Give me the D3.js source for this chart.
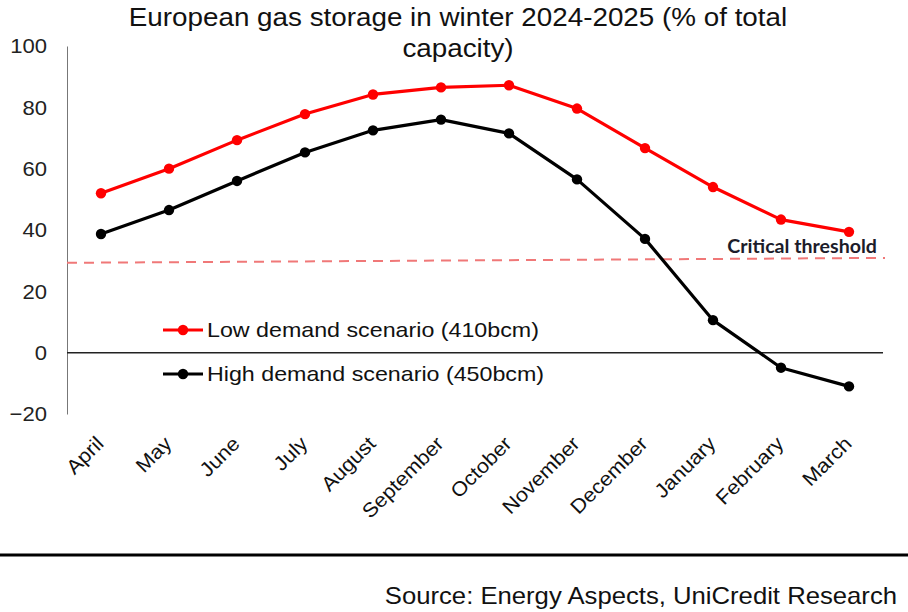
<!DOCTYPE html>
<html>
<head>
<meta charset="utf-8">
<script src="https://cdn.jsdelivr.net/npm/d3@7"></script>
<style>
  html, body { margin: 0; padding: 0; background: #fff; }
  svg { display: block; }
</style>
</head>
<body>
<svg id="chart" width="908" height="612"></svg>
<script>
// ---- Data ----
const months = ["April","May","June","July","August","September","October","November","December","January","February","March"];
const lowDemand  = [52, 60, 69.3, 77.8, 84.2, 86.5, 87.2, 79.6, 66.7, 54, 43.4, 39.4];
const highDemand = [38.7, 46.5, 56, 65.3, 72.5, 76, 71.5, 56.5, 37.1, 10.6, -4.9, -11];
const yTicks = [-20, 0, 20, 40, 60, 80, 100];
const thresholdEnds = [29.3, 30.9];
const seriesNames = ["Low demand scenario (410bcm)", "High demand scenario (450bcm)"];
const titleLines = ["European gas storage in winter 2024-2025 (% of total", "capacity)"];
const thresholdLabel = "Critical threshold";
const sourceText = "Source: Energy Aspects, UniCredit Research";

const svg = d3.select("#chart");
const FONT = "'Liberation Sans', Arial, sans-serif";

const plotLeft = 67, plotRight = 883;
const x = d3.scaleBand().domain(months).range([plotLeft, plotRight]);
const y = d3.scaleLinear().domain([-20, 100]).range([414, 46]);
const xc = m => x(m) + x.bandwidth() / 2;

// helper: text placed at (px,py) with horizontal stretch
function stretchedText(sel, px, py, sx, str) {
  return sel.append("text")
    .attr("transform", `translate(${px},${py}) scale(${sx},1)`)
    .attr("x", 0).attr("y", 0)
    .text(str);
}

// Title
titleLines.forEach((t, i) => {
  stretchedText(svg, 458, 26 + i * 31, 1.07, t)
    .attr("text-anchor", "middle")
    .attr("font-family", FONT).attr("font-size", 26).attr("fill", "#111");
});

// Y axis
const yAxis = d3.axisLeft(y).tickValues(yTicks).tickSize(0).tickPadding(0);
const gy = svg.append("g").attr("transform", `translate(${plotLeft},0)`).call(yAxis);
gy.select(".domain").attr("stroke", "#777").attr("stroke-width", 1);
gy.selectAll("text")
  .attr("x", 0)
  .attr("transform", "translate(-20,0) scale(1.05,1)")
  .attr("font-family", FONT).attr("font-size", 21).attr("fill", "#222");

// Zero line
svg.append("line")
  .attr("x1", plotLeft).attr("x2", plotRight)
  .attr("y1", y(0)).attr("y2", y(0))
  .attr("stroke", "#222").attr("stroke-width", 1.5);

// X axis labels
const xAxis = d3.axisBottom(x).tickSize(0);
const gx = svg.append("g").call(xAxis);
gx.select(".domain").remove();
gx.selectAll(".tick").attr("transform", d => `translate(${xc(d) - 1},440)`);
gx.selectAll("text")
  .attr("x", 0).attr("y", 0).attr("dy", "0.35em")
  .attr("text-anchor", "end")
  .attr("transform", "rotate(-45) scale(1.08,1)")
  .attr("font-family", FONT).attr("font-size", 20).attr("fill", "#111");

// Critical threshold
svg.append("line")
  .attr("x1", plotLeft).attr("x2", plotRight + 2)
  .attr("y1", y(thresholdEnds[0])).attr("y2", y(thresholdEnds[1]))
  .attr("stroke", "#f07878").attr("stroke-width", 2)
  .attr("stroke-dasharray", "10,7");
stretchedText(svg, 877, 253, 1.09, thresholdLabel)
  .attr("text-anchor", "end")
  .attr("font-family", "Lato, 'Open Sans', sans-serif").attr("font-weight", "bold")
  .attr("font-size", 18).attr("fill", "#1c1c2a");

// Series
const series = [
  { name: seriesNames[0], values: lowDemand, color: "#ff0000" },
  { name: seriesNames[1], values: highDemand, color: "#000000" }
];
const line = d3.line().x((d, i) => xc(months[i])).y(d => y(d));

series.forEach(s => {
  const g = svg.append("g");
  g.append("path").datum(s.values)
    .attr("d", line).attr("fill", "none")
    .attr("stroke", s.color).attr("stroke-width", 3.2).attr("stroke-linejoin", "round");
  g.selectAll("circle").data(s.values).join("circle")
    .attr("cx", (d, i) => xc(months[i])).attr("cy", d => y(d))
    .attr("r", 5.2).attr("fill", s.color);
});

// Legend
const legend = svg.append("g");
const legendY = [330, 374];
series.forEach((s, i) => {
  const g = legend.append("g").attr("transform", `translate(0,${legendY[i]})`);
  g.append("line").attr("x1", 163).attr("x2", 203).attr("y1", 0).attr("y2", 0)
    .attr("stroke", s.color).attr("stroke-width", 3.2);
  g.append("circle").attr("cx", 183).attr("cy", 0).attr("r", 5.2).attr("fill", s.color);
  stretchedText(g, 207, 0, 1.107, s.name)
    .attr("dy", "0.35em")
    .attr("font-family", FONT).attr("font-size", 21).attr("fill", "#111");
});

// Bottom rule & source
svg.append("line").attr("x1", 0).attr("x2", 908).attr("y1", 555).attr("y2", 555)
  .attr("stroke", "#000").attr("stroke-width", 3);
stretchedText(svg, 897, 604, 1.07, sourceText)
  .attr("text-anchor", "end")
  .attr("font-family", FONT).attr("font-size", 24).attr("fill", "#111");
</script>
</body>
</html>
